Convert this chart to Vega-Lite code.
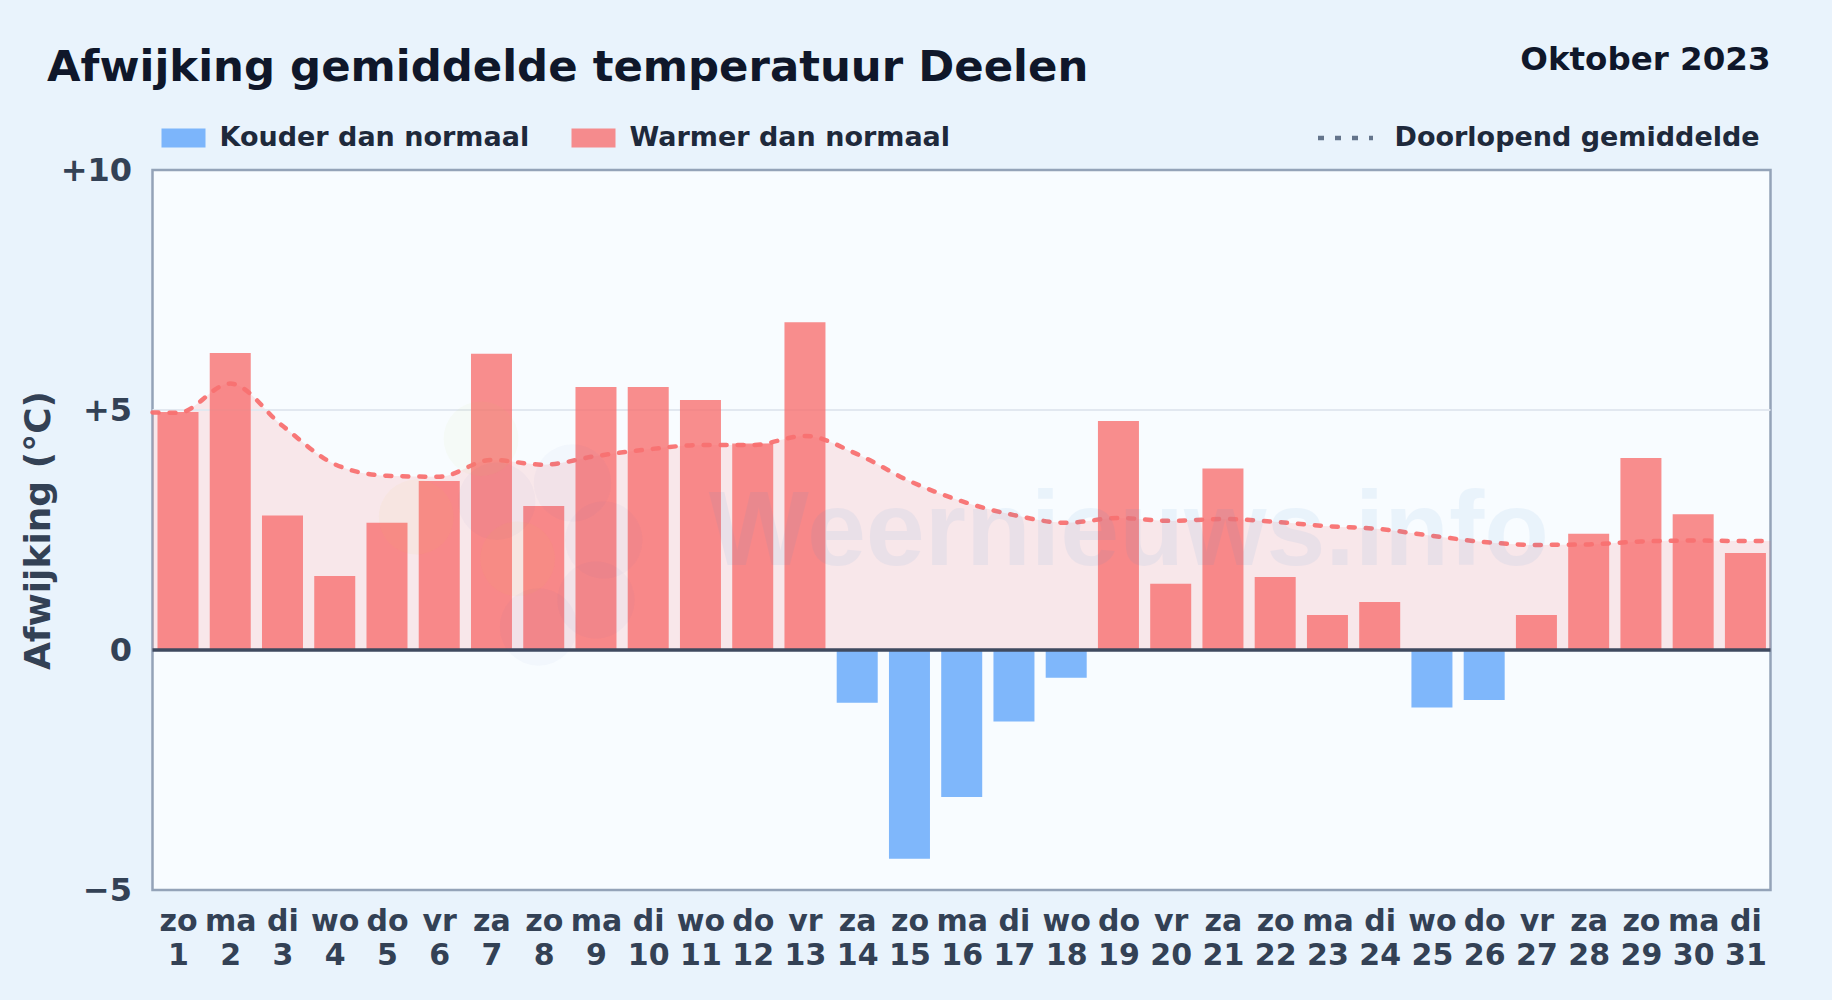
{
"$schema":"https://vega.github.io/schema/vega-lite/v6.json",
"width":1618,"height":720,"autosize":"none",
"padding":{"left":152.5,"top":170,"right":61.5,"bottom":110},
"background":"#e9f3fc",
"title":{"text":"Afwijking gemiddelde temperatuur Deelen","anchor":"start","frame":"group","dx":-105.5,"offset":-46.5,"font":"DejaVu Sans","fontWeight":"bold","fontSize":43.4,"color":"#0f172a"},
"view":{"fill":"#f8fcff","stroke":"#94a3b8","strokeWidth":2.5},
"config":{"font":"DejaVu Sans"},
"datasets":{
"bars":[
{"day":1,"afw":4.96,"soort":"Warmer dan normaal"},{"day":2,"afw":6.19,"soort":"Warmer dan normaal"},{"day":3,"afw":2.8,"soort":"Warmer dan normaal"},{"day":4,"afw":1.54,"soort":"Warmer dan normaal"},{"day":5,"afw":2.65,"soort":"Warmer dan normaal"},{"day":6,"afw":3.52,"soort":"Warmer dan normaal"},{"day":7,"afw":6.17,"soort":"Warmer dan normaal"},{"day":8,"afw":3.0,"soort":"Warmer dan normaal"},{"day":9,"afw":5.48,"soort":"Warmer dan normaal"},{"day":10,"afw":5.48,"soort":"Warmer dan normaal"},{"day":11,"afw":5.21,"soort":"Warmer dan normaal"},{"day":12,"afw":4.3,"soort":"Warmer dan normaal"},{"day":13,"afw":6.83,"soort":"Warmer dan normaal"},{"day":14,"afw":-1.1,"soort":"Kouder dan normaal"},{"day":15,"afw":-4.35,"soort":"Kouder dan normaal"},{"day":16,"afw":-3.06,"soort":"Kouder dan normaal"},{"day":17,"afw":-1.49,"soort":"Kouder dan normaal"},{"day":18,"afw":-0.58,"soort":"Kouder dan normaal"},{"day":19,"afw":4.77,"soort":"Warmer dan normaal"},{"day":20,"afw":1.38,"soort":"Warmer dan normaal"},{"day":21,"afw":3.78,"soort":"Warmer dan normaal"},{"day":22,"afw":1.52,"soort":"Warmer dan normaal"},{"day":23,"afw":0.73,"soort":"Warmer dan normaal"},{"day":24,"afw":1.0,"soort":"Warmer dan normaal"},{"day":25,"afw":-1.2,"soort":"Kouder dan normaal"},{"day":26,"afw":-1.04,"soort":"Kouder dan normaal"},{"day":27,"afw":0.73,"soort":"Warmer dan normaal"},{"day":28,"afw":2.42,"soort":"Warmer dan normaal"},{"day":29,"afw":4.0,"soort":"Warmer dan normaal"},{"day":30,"afw":2.83,"soort":"Warmer dan normaal"},{"day":31,"afw":2.02,"soort":"Warmer dan normaal"}],
"trend":[
{"day":0.512,"gem":4.95,"reeks":"Doorlopend gemiddelde"},{"day":1,"gem":4.94,"reeks":"Doorlopend gemiddelde"},{"day":2,"gem":5.55,"reeks":"Doorlopend gemiddelde"},{"day":3,"gem":4.67,"reeks":"Doorlopend gemiddelde"},{"day":4,"gem":3.87,"reeks":"Doorlopend gemiddelde"},{"day":5,"gem":3.63,"reeks":"Doorlopend gemiddelde"},{"day":6,"gem":3.61,"reeks":"Doorlopend gemiddelde"},{"day":7,"gem":3.96,"reeks":"Doorlopend gemiddelde"},{"day":8,"gem":3.86,"reeks":"Doorlopend gemiddelde"},{"day":9,"gem":4.04,"reeks":"Doorlopend gemiddelde"},{"day":10,"gem":4.18,"reeks":"Doorlopend gemiddelde"},{"day":11,"gem":4.27,"reeks":"Doorlopend gemiddelde"},{"day":12,"gem":4.27,"reeks":"Doorlopend gemiddelde"},{"day":13,"gem":4.46,"reeks":"Doorlopend gemiddelde"},{"day":14,"gem":4.08,"reeks":"Doorlopend gemiddelde"},{"day":15,"gem":3.52,"reeks":"Doorlopend gemiddelde"},{"day":16,"gem":3.1,"reeks":"Doorlopend gemiddelde"},{"day":17,"gem":2.81,"reeks":"Doorlopend gemiddelde"},{"day":18,"gem":2.65,"reeks":"Doorlopend gemiddelde"},{"day":19,"gem":2.75,"reeks":"Doorlopend gemiddelde"},{"day":20,"gem":2.69,"reeks":"Doorlopend gemiddelde"},{"day":21,"gem":2.73,"reeks":"Doorlopend gemiddelde"},{"day":22,"gem":2.67,"reeks":"Doorlopend gemiddelde"},{"day":23,"gem":2.58,"reeks":"Doorlopend gemiddelde"},{"day":24,"gem":2.52,"reeks":"Doorlopend gemiddelde"},{"day":25,"gem":2.38,"reeks":"Doorlopend gemiddelde"},{"day":26,"gem":2.25,"reeks":"Doorlopend gemiddelde"},{"day":27,"gem":2.19,"reeks":"Doorlopend gemiddelde"},{"day":28,"gem":2.2,"reeks":"Doorlopend gemiddelde"},{"day":29,"gem":2.26,"reeks":"Doorlopend gemiddelde"},{"day":30,"gem":2.28,"reeks":"Doorlopend gemiddelde"},{"day":31,"gem":2.27,"reeks":"Doorlopend gemiddelde"},{"day":31.48,"gem":2.27,"reeks":"Doorlopend gemiddelde"}],
"logoBlauw":[{"day":7.1,"afw":3.1},{"day":8.55,"afw":3.48},{"day":9.15,"afw":2.29},{"day":9.0,"afw":1.04},{"day":7.9,"afw":0.48}],
"logoWarm":[{"day":5.56,"afw":2.77},{"day":7.5,"afw":1.9}],
"logoGroen":[{"day":6.8,"afw":4.4}]
},
"layer":[
{"data":{"name":"trend"},"mark":{"type":"area","color":"#f87171","opacity":0.15,"interpolate":"monotone"},
 "encoding":{"x":{"field":"day","type":"quantitative","scale":{"domain":[0.512,31.48],"nice":false,"zero":false,"padding":0},
   "axis":{"title":null,"values":[1,2,3,4,5,6,7,8,9,10,11,12,13,14,15,16,17,18,19,20,21,22,23,24,25,26,27,28,29,30,31],"grid":false,"ticks":false,"domain":false,"labelOverlap":false,"labelBound":false,"labelFlush":false,"labelFont":"DejaVu Sans","labelFontWeight":"bold","labelFontSize":30,"labelColor":"#334155","labelLineHeight":34,"labelPadding":16,"labelBaseline":"top","labelExpr":"[['zo','ma','di','wo','do','vr','za'][(datum.value-1)%7], ''+datum.value]"}},
  "y":{"field":"gem","type":"quantitative","scale":{"domain":[-5,10],"nice":false},
   "axis":{"title":"Afwijking (°C)","titleFont":"DejaVu Sans","titleFontWeight":"bold","titleFontSize":36,"titleColor":"#334155","titlePadding":3,"values":[-5,0,5,10],"grid":false,"ticks":false,"domain":false,"labelFont":"DejaVu Sans","labelFontWeight":"bold","labelFontSize":32,"labelColor":"#334155","labelPadding":21,"labelExpr":"datum.value>0?'+'+datum.value:(datum.value<0?'−'+abs(datum.value):'0')"}},
  "y2":{"datum":0}}},
{"data":{"values":[{"afw":5}]},"mark":{"type":"rule","color":"#e2e8f0","strokeWidth":2},"encoding":{"y":{"field":"afw","type":"quantitative"}}},
{"data":{"name":"bars"},"mark":{"type":"bar","size":41,"opacity":0.8},
 "encoding":{"x":{"field":"day","type":"quantitative"},"y":{"field":"afw","type":"quantitative"},"y2":{"datum":0},
  "color":{"field":"soort","type":"nominal","scale":{"domain":["Kouder dan normaal","Warmer dan normaal"],"range":["#60a5fa","#f87171"]},
   "legend":{"title":null,"orient":"none","legendX":9,"legendY":-54,"direction":"horizontal","columns":2,"columnPadding":42,"symbolType":"M-1,-0.43H1V0.43H-1Z","symbolSize":1936,"symbolStrokeWidth":0,"symbolOpacity":0.8,"labelFont":"DejaVu Sans","labelFontWeight":"bold","labelFontSize":27,"labelColor":"#1e293b","labelOffset":14,"labelLimit":500}}}},
{"data":{"name":"trend"},"mark":{"type":"line","color":"#f87171","strokeWidth":4.5,"strokeCap":"round","opacity":0.95,"interpolate":"monotone"},
 "encoding":{"x":{"field":"day","type":"quantitative"},"y":{"field":"gem","type":"quantitative"},
  "strokeDash":{"field":"reeks","type":"nominal","scale":{"domain":["Doorlopend gemiddelde"],"range":[[6,11]]},
   "legend":{"title":null,"orient":"none","legendX":1163,"legendY":-62,"symbolType":"stroke","symbolSize":3025,"symbolStrokeWidth":4.5,"labelFont":"DejaVu Sans","labelFontWeight":"bold","labelFontSize":27,"labelColor":"#1e293b","labelOffset":19,"labelLimit":500,"encoding":{"symbols":{"stroke":{"value":"#64748b"},"opacity":{"value":1}}}}}}},
{"data":{"values":[{"afw":0}]},"mark":{"type":"rule","color":"#3f4a5f","strokeWidth":3.5},"encoding":{"y":{"field":"afw","type":"quantitative"}}},
{"data":{"name":"logoBlauw"},"mark":{"type":"point","shape":"circle","filled":true,"size":6000,"color":"#3b5bb0","opacity":0.03},"encoding":{"x":{"field":"day","type":"quantitative"},"y":{"field":"afw","type":"quantitative"}}},
{"data":{"name":"logoWarm"},"mark":{"type":"point","shape":"circle","filled":true,"size":5600,"color":"#f5c542","opacity":0.05},"encoding":{"x":{"field":"day","type":"quantitative"},"y":{"field":"afw","type":"quantitative"}}},
{"data":{"name":"logoGroen"},"mark":{"type":"point","shape":"circle","filled":true,"size":5600,"color":"#c8e060","opacity":0.05},"encoding":{"x":{"field":"day","type":"quantitative"},"y":{"field":"afw","type":"quantitative"}}},
{"data":{"values":[{"day":19.2,"afw":1.77,"tekst":"Weernieuws.info"}]},"mark":{"type":"text","font":"Liberation Sans","fontWeight":"bold","fontSize":106,"color":"#3b8ad6","opacity":0.07,"align":"center","baseline":"alphabetic"},"encoding":{"x":{"field":"day","type":"quantitative"},"y":{"field":"afw","type":"quantitative"},"text":{"field":"tekst"}}},
{"data":{"values":[{"day":31.48,"afw":10,"tekst":"Oktober 2023"}]},"mark":{"type":"text","font":"DejaVu Sans","fontWeight":"bold","fontSize":32.5,"color":"#0f172a","align":"right","baseline":"alphabetic","yOffset":-100,"clip":false},"encoding":{"x":{"field":"day","type":"quantitative"},"y":{"field":"afw","type":"quantitative"},"text":{"field":"tekst"}}}
]
}
